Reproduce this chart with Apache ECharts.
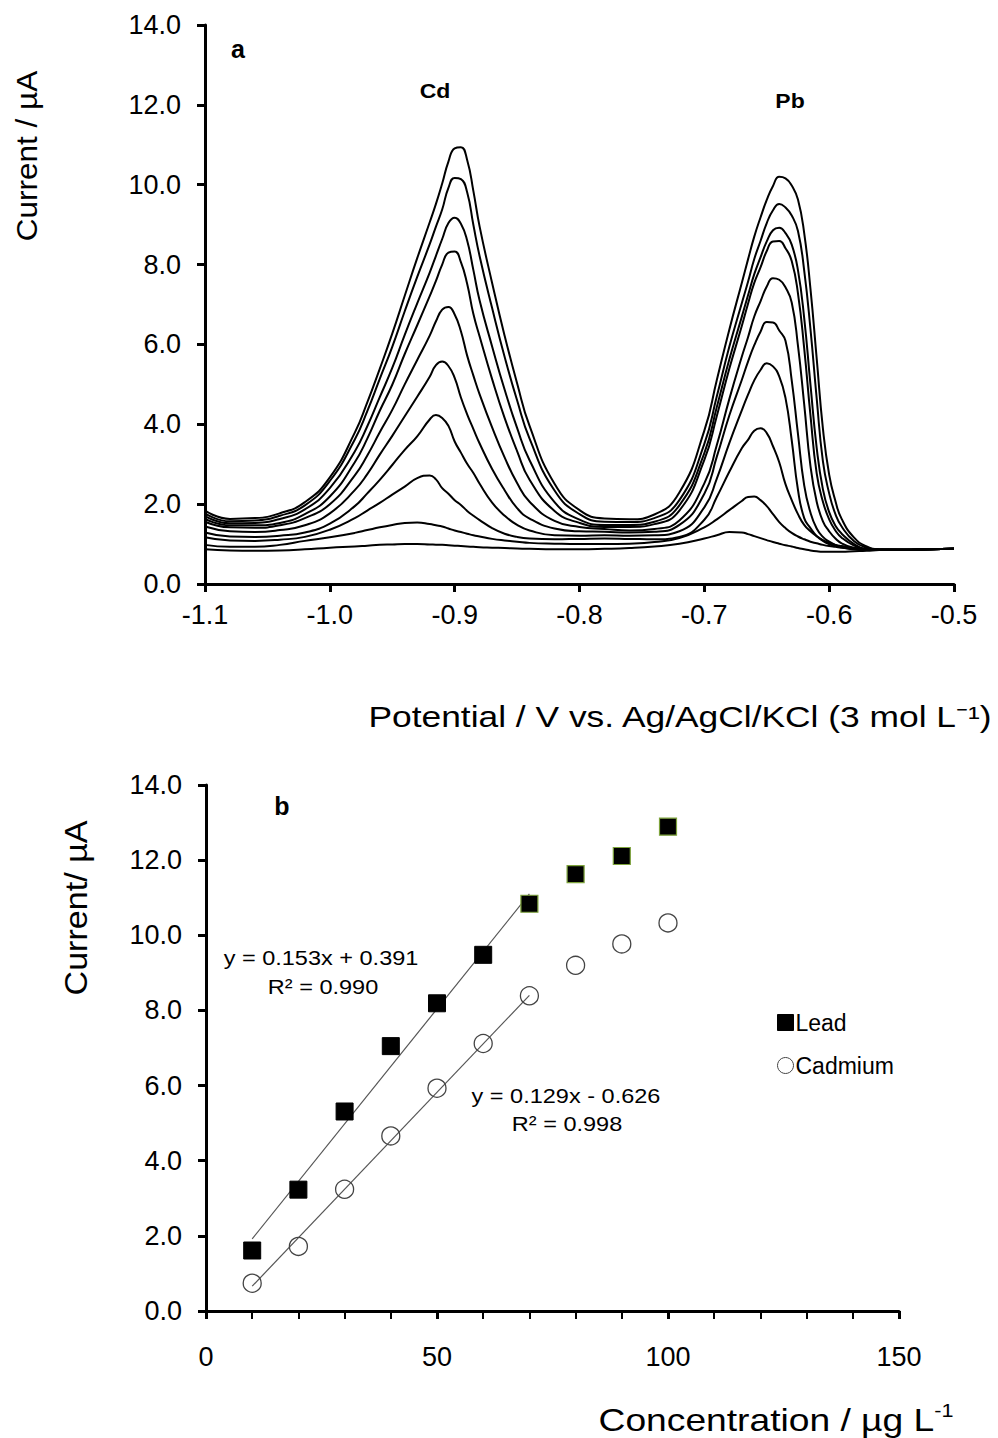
<!DOCTYPE html>
<html><head><meta charset="utf-8">
<script src="https://cdn.jsdelivr.net/npm/echarts@6/dist/echarts.min.js"></script>
<style>html,body{margin:0;padding:0;background:#fff}#c{width:998px;height:1438px}</style>
</head><body><div id="c"></div>
<script>
// ---------- Panel a: stripping voltammograms ----------
const potential = [-1.10,-1.08,-1.06,-1.04,-1.02,-1.00,-0.98,-0.97,-0.96,-0.95,-0.94,-0.93,-0.92,-0.915,-0.91,-0.905,-0.90,-0.895,-0.89,-0.885,-0.88,-0.87,-0.86,-0.85,-0.84,-0.82,-0.80,-0.78,-0.76,-0.74,-0.72,-0.70,-0.69,-0.68,-0.67,-0.665,-0.66,-0.655,-0.65,-0.645,-0.64,-0.635,-0.63,-0.625,-0.62,-0.615,-0.61,-0.605,-0.60,-0.595,-0.59,-0.58,-0.57,-0.56,-0.54,-0.52,-0.50];
const curve1 = [1.84,1.63,1.65,1.77,2.05,2.67,3.79,4.55,5.39,6.27,7.22,8.16,9.06,9.52,10.03,10.58,10.91,10.94,10.62,9.84,8.95,7.54,6.22,5.03,3.96,2.51,1.85,1.64,1.62,1.74,2.29,3.84,5.11,6.37,7.54,8.13,8.70,9.18,9.62,9.97,10.20,10.16,9.98,9.63,8.79,7.40,5.65,3.89,2.74,2.08,1.63,1.16,0.94,0.87,0.86,0.87,0.88];
const curve2 = [1.77,1.57,1.59,1.71,1.97,2.58,3.62,4.33,5.14,5.94,6.83,7.69,8.51,8.95,9.38,9.92,10.17,10.14,9.81,8.99,8.21,6.91,5.69,4.60,3.64,2.34,1.75,1.56,1.55,1.65,2.10,3.51,4.70,5.94,7.03,7.57,8.14,8.59,9.04,9.36,9.52,9.43,9.23,8.84,7.85,6.39,4.65,3.07,2.27,1.75,1.44,1.07,0.91,0.86,0.86,0.87,0.88];
const curve3 = [1.70,1.52,1.53,1.63,1.87,2.40,3.32,3.95,4.68,5.41,6.24,7.03,7.80,8.22,8.64,9.04,9.17,9.02,8.60,7.86,7.10,5.95,4.87,3.91,3.10,2.05,1.61,1.48,1.48,1.56,1.97,3.28,4.43,5.62,6.69,7.23,7.76,8.18,8.58,8.86,8.92,8.79,8.50,7.86,6.66,5.00,3.41,2.37,1.80,1.46,1.26,1.00,0.88,0.86,0.86,0.87,0.88];
const curve4 = [1.63,1.47,1.47,1.53,1.75,2.19,3.05,3.64,4.34,4.99,5.76,6.48,7.21,7.59,8.00,8.30,8.33,8.06,7.52,6.76,6.20,5.13,4.16,3.33,2.61,1.83,1.53,1.43,1.43,1.50,1.84,3.11,4.21,5.39,6.46,7.02,7.54,7.93,8.34,8.58,8.59,8.41,8.09,7.28,5.90,4.23,2.77,2.06,1.62,1.34,1.16,0.96,0.87,0.86,0.86,0.87,0.88];
const curve5 = [1.56,1.42,1.41,1.47,1.65,2.00,2.72,3.22,3.80,4.36,5.00,5.61,6.22,6.58,6.87,6.94,6.75,6.33,5.72,5.22,4.75,3.92,3.17,2.53,2.06,1.58,1.43,1.38,1.34,1.38,1.59,2.52,3.48,4.63,5.69,6.18,6.70,7.08,7.45,7.66,7.62,7.43,7.05,5.97,4.50,2.96,2.06,1.57,1.32,1.14,1.02,0.90,0.86,0.86,0.86,0.87,0.88];
const curve6 = [1.44,1.32,1.30,1.35,1.47,1.77,2.35,2.75,3.24,3.71,4.20,4.69,5.19,5.48,5.57,5.46,5.16,4.67,4.25,3.88,3.52,2.88,2.35,1.90,1.64,1.39,1.32,1.31,1.29,1.31,1.48,2.26,3.19,4.22,5.11,5.57,5.98,6.32,6.56,6.55,6.35,6.09,5.10,3.76,2.47,1.79,1.39,1.18,1.06,0.98,0.93,0.88,0.86,0.86,0.86,0.87,0.88];
const curve7 = [1.29,1.19,1.18,1.21,1.29,1.51,1.95,2.27,2.61,2.98,3.36,3.70,4.12,4.23,4.16,3.96,3.57,3.29,3.01,2.78,2.51,2.04,1.71,1.48,1.34,1.22,1.21,1.22,1.21,1.22,1.32,1.92,2.64,3.53,4.35,4.74,5.10,5.36,5.53,5.45,5.20,4.66,3.60,2.36,1.65,1.40,1.20,1.08,1.00,0.95,0.92,0.87,0.86,0.86,0.86,0.87,0.88];
const curve8 = [1.17,1.09,1.08,1.11,1.18,1.36,1.65,1.84,2.03,2.24,2.44,2.65,2.72,2.62,2.40,2.26,2.10,1.98,1.83,1.71,1.60,1.40,1.26,1.18,1.14,1.12,1.13,1.14,1.13,1.12,1.18,1.61,2.18,2.81,3.40,3.61,3.84,3.90,3.78,3.45,3.05,2.50,2.10,1.75,1.48,1.32,1.20,1.10,1.03,0.98,0.95,0.90,0.87,0.86,0.86,0.87,0.88];
const curve9 = [0.98,0.93,0.93,0.98,1.08,1.17,1.28,1.35,1.42,1.48,1.53,1.54,1.50,1.47,1.44,1.39,1.34,1.30,1.26,1.22,1.19,1.13,1.09,1.06,1.03,1.01,1.00,1.00,1.01,1.05,1.15,1.42,1.62,1.85,2.08,2.18,2.19,2.10,1.95,1.75,1.55,1.40,1.28,1.19,1.12,1.06,1.02,0.98,0.95,0.93,0.91,0.88,0.86,0.86,0.86,0.87,0.88];
const curve10 = [0.87,0.84,0.83,0.84,0.87,0.91,0.94,0.96,0.98,0.99,1.00,1.00,0.99,0.985,0.98,0.97,0.96,0.95,0.94,0.93,0.92,0.91,0.90,0.89,0.88,0.87,0.87,0.88,0.90,0.94,1.01,1.14,1.22,1.30,1.29,1.25,1.20,1.15,1.10,1.05,1.01,0.97,0.94,0.90,0.87,0.84,0.82,0.81,0.81,0.81,0.81,0.82,0.83,0.85,0.86,0.87,0.88];
const voltammograms = [curve1,curve2,curve3,curve4,curve5,curve6,curve7,curve8,curve9,curve10];

// ---------- Panel b: calibration ----------
const concentration = [10,20,30,40,50,60,70,80,90,100];
const leadCurrent = [1.61,3.23,5.31,7.05,8.19,9.48,10.84,11.63,12.11,12.89];
const cadmiumCurrent = [0.74,1.72,3.24,4.66,5.93,7.12,8.39,9.20,9.77,10.33];
const leadFit = [[10,1.92],[70,11.10]];
const cadmiumFit = [[10,0.66],[70,8.40]];

const FF = '"Liberation Sans", Arial, Helvetica, sans-serif';

function axisBase(extra) {
  return Object.assign({
    type: 'value',
    axisLine: {show: true, onZero: false, lineStyle: {color: '#000', width: 3}},
    axisTick: {show: true, inside: false, length: 8, lineStyle: {color: '#000', width: 3}},
    splitLine: {show: false},
    axisLabel: {color: '#000', fontSize: 27, fontFamily: FF}
  }, extra);
}

const chart = echarts.init(document.getElementById('c'), null, {renderer: 'svg', width: 998, height: 1438});

const series = [];
voltammograms.forEach((c, k) => {
  series.push({
    type: 'line', name: 'scan' + (k + 1), xAxisIndex: 0, yAxisIndex: 0,
    data: potential.map((p, i) => [p, c[i]]),
    showSymbol: false, smooth: 0.5, silent: true,
    lineStyle: {color: '#000', width: 2}
  });
});
series.push({
  type: 'line', name: 'leadFit', xAxisIndex: 1, yAxisIndex: 1, data: leadFit,
  showSymbol: false, silent: true, lineStyle: {color: '#555', width: 1.2}, z: 1
});
series.push({
  type: 'line', name: 'cadmiumFit', xAxisIndex: 1, yAxisIndex: 1, data: cadmiumFit,
  showSymbol: false, silent: true, lineStyle: {color: '#555', width: 1.2}, z: 1
});
series.push({
  type: 'scatter', name: 'Lead', xAxisIndex: 1, yAxisIndex: 1, symbol: 'rect', symbolSize: 17, z: 3,
  itemStyle: {color: '#000', borderColor: '#000', borderWidth: 1, opacity: 1},
  data: concentration.map((c, i) => ({
    value: [c, leadCurrent[i]],
    itemStyle: i >= 6 ? {borderColor: '#7ea33c', borderWidth: 1.2, opacity: 1} : undefined
  }))
});
series.push({
  type: 'scatter', name: 'Cadmium', xAxisIndex: 1, yAxisIndex: 1, symbol: 'circle', symbolSize: 18, z: 3,
  itemStyle: {color: 'rgba(255,255,255,0)', borderColor: '#444', borderWidth: 1.3, opacity: 1},
  data: concentration.map((c, i) => [c, cadmiumCurrent[i]])
});

function txt(x, y, text, font, opts) {
  return Object.assign({
    type: 'text', x: x, y: y, silent: true,
    style: {text: text, font: font, fill: '#000', align: 'center', verticalAlign: 'middle'}
  }, opts || {});
}

const option = {
  animation: false,
  backgroundColor: '#fff',
  textStyle: {fontFamily: FF},
  grid: [
    {left: 205, top: 25, width: 749, height: 559, containLabel: false},
    {left: 206, top: 785, width: 693, height: 526, containLabel: false}
  ],
  xAxis: [
    axisBase({gridIndex: 0, min: -1.1, max: -0.5, interval: 0.1,
      axisLabel: {color: '#000', fontSize: 27, fontFamily: FF, margin: 17, formatter: v => v.toFixed(1)}}),
    axisBase({gridIndex: 1, min: 0, max: 150, interval: 50,
      minorTick: {show: true, splitNumber: 5, length: 8, lineStyle: {color: '#000', width: 2}},
      axisLabel: {color: '#000', fontSize: 27, fontFamily: FF, margin: 32}})
  ],
  yAxis: [
    axisBase({gridIndex: 0, min: 0, max: 14, interval: 2,
      axisLabel: {color: '#000', fontSize: 27, fontFamily: FF, margin: 24, formatter: v => v.toFixed(1)}}),
    axisBase({gridIndex: 1, min: 0, max: 14, interval: 2,
      axisLabel: {color: '#000', fontSize: 27, fontFamily: FF, margin: 24, formatter: v => v.toFixed(1)}})
  ],
  legend: {
    data: [{name: 'Lead', icon: 'rect'}, {name: 'Cadmium', icon: 'circle'}],
    orient: 'vertical', left: 772, top: 1006, itemWidth: 16, itemHeight: 16, itemGap: 20,
    itemStyle: {borderWidth: 1},
    textStyle: {fontSize: 23, color: '#000', fontFamily: FF, padding: [0, 0, 0, -3]},
    selectedMode: false
  },
  graphic: [
    txt(238, 49, 'a', 'bold 25px ' + FF),
    txt(435, 91, 'Cd', 'bold 20px ' + FF, {scaleX: 1.15}),
    txt(790, 101, 'Pb', 'bold 20px ' + FF, {scaleX: 1.15}),
    txt(27, 156, 'Current / µA', '30px ' + FF, {rotation: Math.PI / 2, scaleX: 1.05}),
    txt(680, 717, 'Potential / V vs. Ag/AgCl/KCl (3 mol L\u207B\u00B9)', '29px ' + FF, {scaleX: 1.22}),
    txt(282, 806, 'b', 'bold 25px ' + FF),
    txt(321, 958, 'y = 0.153x + 0.391', '21px ' + FF, {scaleX: 1.12}),
    txt(323, 987, 'R\u00B2 = 0.990', '21px ' + FF, {scaleX: 1.12}),
    txt(566, 1096, 'y = 0.129x - 0.626', '21px ' + FF, {scaleX: 1.12}),
    txt(567, 1124, 'R\u00B2 = 0.998', '21px ' + FF, {scaleX: 1.12}),
    txt(77, 908, 'Current/ µA', '31px ' + FF, {rotation: Math.PI / 2, scaleX: 1.1}),
    {
      type: 'text', x: 776, y: 1420, silent: true, scaleX: 1.2,
      style: {
        text: '{m|Concentration / µg L}{s|-1}', align: 'center', verticalAlign: 'middle', fill: '#000',
        rich: {
          m: {fontSize: 31, fontFamily: FF, fill: '#000', lineHeight: 36},
          s: {fontSize: 18, fontFamily: FF, fill: '#000', verticalAlign: 'top', lineHeight: 36, padding: [0, 0, 14, 0]}
        }
      }
    }
  ],
  series: series
};
chart.setOption(option);
</script>
</body></html>
